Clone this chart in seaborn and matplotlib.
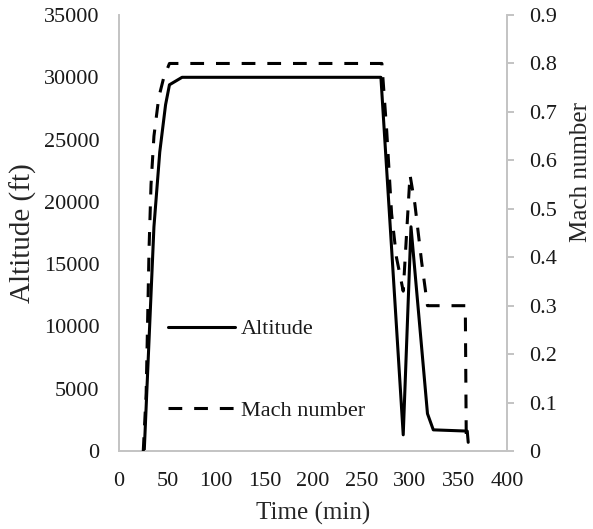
import matplotlib
matplotlib.use("Agg")
import matplotlib.pyplot as plt
import pandas as pd
import seaborn as sns

# Flight profile: altitude and Mach number against elapsed time
time_alt = [26, 36, 42, 48, 52, 65, 270, 293, 301, 318, 324, 359, 360]
altitude = [0, 18000, 24000, 27800, 29400, 30000, 30000, 1300, 18000, 3000, 1700, 1600, 700]

time_mach = [25, 28, 31, 33, 36, 41, 46, 52, 271, 276, 281, 286, 293, 300, 305, 312, 318, 357, 358]
mach = [0, 0.12, 0.42, 0.55, 0.65, 0.73, 0.77, 0.80, 0.80, 0.66, 0.49, 0.40, 0.33, 0.57, 0.51, 0.39,
        0.30, 0.30, 0.02]

x_ticks = [0, 50, 100, 150, 200, 250, 300, 350, 400]
alt_ticks = [0, 5000, 10000, 15000, 20000, 25000, 30000, 35000]
mach_ticks = [0, 0.1, 0.2, 0.3, 0.4, 0.5, 0.6, 0.7, 0.8, 0.9]
mach_tick_labels = ["0", "0.1", "0.2", "0.3", "0.4", "0.5", "0.6", "0.7", "0.8", "0.9"]

sns.set_theme(style="white")
plt.rcParams["font.family"] = ["Liberation Serif", "DejaVu Serif"]
plt.rcParams["text.color"] = "#1a1a1a"

alt_df = pd.DataFrame({"Time (min)": time_alt, "Altitude (ft)": altitude})
mach_df = pd.DataFrame({"Time (min)": time_mach, "Mach number": mach})

fig = plt.figure(figsize=(5.93, 5.29), dpi=100)
ax = fig.add_axes([0.2007, 0.1474, 0.6543, 0.8242])
ax2 = ax.twinx()

lw = 2.2
sns.lineplot(data=alt_df, x="Time (min)", y="Altitude (ft)", ax=ax, color="black",
             linewidth=lw, sort=False, estimator=None, label="Altitude")
sns.lineplot(data=mach_df, x="Time (min)", y="Mach number", ax=ax2, color="black",
             linewidth=lw, sort=False, estimator=None, linestyle=(0, (4.5, 3.9)),
             label="Mach number")

for a in (ax, ax2):
    leg = a.get_legend()
    if leg is not None:
        leg.remove()

grey = "#c3c3c3"
ax.set_xlim(0, 400)
ax.set_ylim(0, 35000)
ax.set_xticks(x_ticks)
ax.set_yticks(alt_ticks)
ax2.set_ylim(0, 0.9)
ax2.set_yticks(mach_ticks)
ax2.set_yticklabels(mach_tick_labels)

for s in ("top", "right"):
    ax.spines[s].set_visible(False)
for s in ("left", "bottom"):
    ax.spines[s].set_color(grey)
    ax.spines[s].set_linewidth(1.4)
for s in ("top", "left", "bottom"):
    ax2.spines[s].set_visible(False)
ax2.spines["right"].set_color(grey)
ax2.spines["right"].set_linewidth(1.4)

tick_color = "#1a1a1a"
ax.tick_params(axis="x", length=0, pad=15, labelsize=16, labelcolor=tick_color)
ax.tick_params(axis="y", length=0, pad=14, labelsize=16, labelcolor=tick_color)
ax2.tick_params(axis="y", length=5, width=1.4, color=grey, pad=11, labelsize=16,
                labelcolor=tick_color)

ax.set_xlabel("Time (min)", fontsize=18, labelpad=8)
ax.set_ylabel("Altitude (ft)", fontsize=21, labelpad=5)
ax2.set_ylabel("Mach number", fontsize=18)
ax2.yaxis.set_label_coords(1.163, 0.64)

h1, l1 = ax.get_legend_handles_labels()
h2, l2 = ax2.get_legend_handles_labels()
ax2.legend(h1 + h2, l1 + l2, loc="upper left", bbox_to_anchor=(0.126, 0.303),
           frameon=False, fontsize=16, handlelength=3.0, handletextpad=0.3,
           labelspacing=2.75, borderaxespad=0, borderpad=0)

ax.grid(False)
ax2.grid(False)
fig.savefig("out.png", dpi=100)
